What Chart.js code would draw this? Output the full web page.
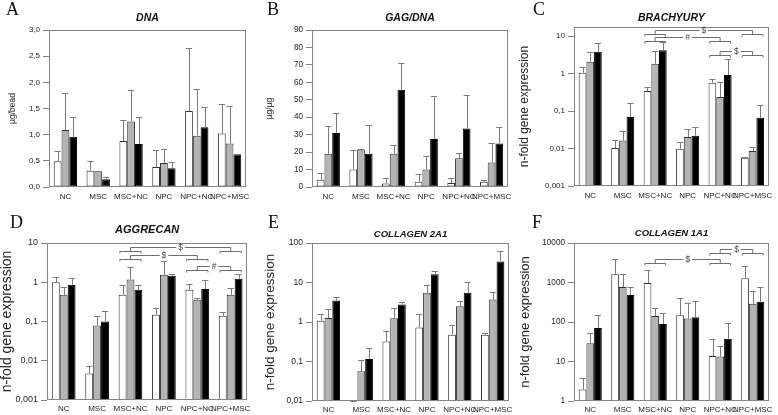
<!DOCTYPE html>
<html>
<head>
<meta charset="utf-8">
<script src="https://cdn.jsdelivr.net/npm/chart.js@4.4.0/dist/chart.umd.min.js"></script>
<style>
  html, body { margin: 0; padding: 0; background: #fff; }
  body { width: 778px; height: 415px; position: relative; overflow: hidden; }
  canvas { position: absolute; }
</style>
</head>
<body>
<canvas id="cA" width="255" height="205" style="left:0;top:0"></canvas>
<canvas id="cB" width="262" height="205" style="left:255px;top:0"></canvas>
<canvas id="cC" width="268" height="205" style="left:510px;top:0"></canvas>
<canvas id="cD" width="255" height="210" style="left:0;top:205px"></canvas>
<canvas id="cE" width="262" height="210" style="left:255px;top:205px"></canvas>
<canvas id="cF" width="268" height="210" style="left:510px;top:205px"></canvas>
<script>
var categories = ['NC', 'MSC', 'MSC+NC', 'NPC', 'NPC+NC', 'NPC+MSC'];

// A - DNA (ug/bead)
var dnaWhite = [0.49, 0.31, 0.88, 0.38, 1.45, 1.02];
var dnaGray = [1.09, 0.30, 1.25, 0.46, 0.98, 0.83];
var dnaBlack = [0.96, 0.15, 0.82, 0.36, 1.14, 0.62];
var dnaWhiteErr = [0.68, 0.50, 1.28, 0.71, 2.66, 1.59];
var dnaGrayErr = [1.80, 0.31, 1.85, 0.72, 1.87, 1.55];
var dnaBlackErr = [1.34, 0.20, 1.33, 0.47, 1.53, 0.64];
var dnaTicks = [0, 0.5, 1, 1.5, 2, 2.5, 3];
var dnaTickLabels = ['0,0', '0,5', '1,0', '1,5', '2,0', '2,5', '3,0'];

// B - GAG/DNA (ug/ug)
var gagWhite = [4.2, 10, 2, 3, 2.3, 3];
var gagGray = [19, 21.5, 19, 10, 16.5, 14];
var gagBlack = [31, 19, 55.7, 27.5, 33.5, 25];
var gagWhiteErr = [8.2, 21, 5.2, 7.7, 5.3, 4];
var gagGrayErr = [35, 21.6, 24, 18, 19.5, 25.3];
var gagBlackErr = [42.5, 35.8, 70.8, 52, 53, 34.5];
var gagTicks = [0, 10, 20, 30, 40, 50, 60, 70, 80, 90];
var gagTickLabels = ['0', '10', '20', '30', '40', '50', '60', '70', '80', '90'];

// C - Brachyury
var brachyWhite = [1.05, 0.0103, 0.34, 0.0099, 0.57, 0.0057];
var brachyGray = [2.07, 0.0163, 1.83, 0.0203, 0.235, 0.0086];
var brachyBlack = [3.8, 0.069, 4.2, 0.022, 0.91, 0.066];
var brachyWhiteErr = [1.5, 0.0166, 0.446, 0.0149, 0.7, 0.006];
var brachyGrayErr = [3.74, 0.029, 3.98, 0.0324, 0.59, 0.0107];
var brachyBlackErr = [6.5, 0.163, 7.06, 0.0374, 2.44, 0.142];
var brachyTicks = [0.001, 0.01, 0.1, 1, 10];
var brachyTickLabels = ['0,001', '0,01', '0,1', '1', '10'];
var brachyBrackets = [[2, 5, 14.2, '$'], [2, 4, 9.2, '#'], [4, 5, 3.9, '$']];

// D - Aggrecan
var aggWhite = [1.0, 0.0047, 0.48, 0.148, 0.64, 0.14];
var aggGray = [0.48, 0.079, 1.18, 1.55, 0.357, 0.48];
var aggBlack = [0.86, 0.1, 0.64, 1.47, 0.67, 1.23];
var aggWhiteErr = [1.36, 0.0075, 0.83, 0.223, 0.92, 0.177];
var aggGrayErr = [0.75, 0.14, 2.39, 3.4, 0.40, 0.72];
var aggBlackErr = [1.28, 0.187, 0.83, 1.63, 1.16, 1.62];
var aggTicks = [0.001, 0.01, 0.1, 1, 10];
var aggTickLabels = ['0,001', '0,01', '0,1', '1', '10'];
var aggBrackets = [[2, 5, 8.0, '$'], [2, 4, 5.0, '$'], [4, 5, 2.6, '#']];

// E - Collagen 2A1
var col2White = [1.08, 0.0101, 0.32, 0.73, 0.475, 0.475];
var col2Gray = [1.26, 0.057, 1.25, 5.5, 2.5, 3.7];
var col2Black = [3.5, 0.116, 2.77, 16.2, 5.5, 34];
var col2WhiteErr = [1.6, 0.0101, 0.58, 1.6, 0.82, 0.53];
var col2GrayErr = [2.19, 0.11, 2.28, 8.6, 3.5, 5.6];
var col2BlackErr = [4.35, 0.225, 3.24, 19.7, 10.5, 63.7];
var col2Ticks = [0.01, 0.1, 1, 10, 100];
var col2TickLabels = ['0,01', '0,1', '1', '10', '100'];

// F - Collagen 1A1
var col1White = [1.95, 1617, 970, 148, 13.8, 1277];
var col1Gray = [29, 768, 142, 122, 13.3, 288];
var col1Black = [70, 480, 89, 131, 37.5, 324];
var col1WhiteErr = [3.86, 3900, 2085, 410, 36.8, 2690];
var col1GrayErr = [52, 1617, 223, 300, 25.3, 607];
var col1BlackErr = [148, 768, 166, 337, 94, 768];
var col1Ticks = [1, 10, 100, 1000, 10000];
var col1TickLabels = ['1', '10', '100', '1000', '10000'];
var col1Brackets = [[4, 5, 7000, '$'], [2, 4, 3900, '$']];

var sans = '"Liberation Sans", Arial, sans-serif';

// draws error bars, frame, significance brackets and the panel letter
var panelDecor = {
    id: 'panelDecor',
    afterDatasetsDraw: function(chart, args, opts) {
        var ctx = chart.ctx;
        var a = chart.chartArea;
        var xs = chart.scales.x, ys = chart.scales.y;
        ctx.save();
        ctx.lineWidth = 1;

        chart.data.datasets.forEach(function(ds, i) {
            var meta = chart.getDatasetMeta(i);
            meta.data.forEach(function(bar, j) {
                var top = Math.round(ys.getPixelForValue(ds.errTop[j])) + 0.5;
                var cx = Math.round(bar.x) + 0.5;
                var half = bar.width * 0.4;
                ctx.strokeStyle = '#7a7a7a';
                ctx.beginPath();
                ctx.moveTo(cx, bar.y);
                ctx.lineTo(cx, top);
                ctx.moveTo(bar.x - half, top);
                ctx.lineTo(bar.x + half, top);
                ctx.stroke();
            });
        });

        ctx.strokeStyle = '#858585';
        ctx.strokeRect(Math.round(a.left) + 0.5, Math.round(a.top) + 0.5,
            Math.round(a.right - a.left) - 1, Math.round(a.bottom - a.top) - 1);

        var bw = chart.getDatasetMeta(0).data[0].width;
        (opts.brackets || []).forEach(function(b) {
            var x1 = xs.getPixelForValue(b[0]);
            var x2 = xs.getPixelForValue(b[1]);
            var yl = Math.round(ys.getPixelForValue(b[2])) + 0.5;
            var gh = bw * 1.35;
            ctx.strokeStyle = '#6e6e6e';
            ctx.beginPath();
            [x1, x2].forEach(function(cx) {
                ctx.moveTo(cx - gh, yl + 6);
                ctx.lineTo(cx - gh, yl + 4);
                ctx.lineTo(cx + gh, yl + 4);
                ctx.lineTo(cx + gh, yl + 6);
                ctx.moveTo(cx, yl + 4);
                ctx.lineTo(cx, yl);
            });
            ctx.font = '8.5px ' + sans;
            var mid = (x1 + x2) / 2;
            var tw = ctx.measureText(b[3]).width / 2 + 2;
            ctx.moveTo(x1, yl);
            ctx.lineTo(mid - tw, yl);
            ctx.moveTo(mid + tw, yl);
            ctx.lineTo(x2, yl);
            ctx.stroke();
            ctx.fillStyle = '#444';
            ctx.textAlign = 'center';
            ctx.textBaseline = 'middle';
            ctx.fillText(b[3], mid, yl + 0.5);
        });

        ctx.font = '18px "Liberation Serif", "Times New Roman", serif';
        ctx.fillStyle = '#111';
        ctx.textAlign = 'left';
        ctx.textBaseline = 'alphabetic';
        ctx.fillText(opts.letter, opts.letterX, opts.letterY);
        ctx.restore();
    }
};

function buildChart(p) {
    var isLog = p.log;
    var titleTop = p.titleY - p.titleSize / 2;
    return new Chart(document.getElementById(p.id), {
        type: 'bar',
        data: {
            labels: categories,
            datasets: [
                { data: p.white, errTop: p.whiteErr, backgroundColor: '#ffffff', borderColor: '#333333' },
                { data: p.gray, errTop: p.grayErr, backgroundColor: '#b4b4b4', borderColor: '#333333' },
                { data: p.black, errTop: p.blackErr, backgroundColor: '#000000', borderColor: '#000000' }
            ]
        },
        options: {
            responsive: false,
            animation: false,
            layout: { padding: { left: 0, top: 0, right: p.padRight, bottom: 0 } },
            datasets: { bar: { barPercentage: 1, categoryPercentage: 0.71, borderWidth: 1, borderSkipped: false } },
            plugins: {
                legend: { display: false },
                tooltip: { enabled: false },
                title: {
                    display: true,
                    text: p.title,
                    fullSize: false,
                    color: '#111',
                    font: { family: sans, size: p.titleSize, weight: 'bold', style: 'italic', lineHeight: 1 },
                    padding: { top: titleTop, bottom: p.top - titleTop - p.titleSize }
                },
                panelDecor: { letter: p.letter, letterX: p.letterX, letterY: p.letterY, brackets: p.brackets }
            },
            scales: {
                x: {
                    grid: { display: false, drawTicks: false },
                    border: { display: false },
                    ticks: { autoSkip: false, maxRotation: 0, minRotation: 0, padding: p.xPad, color: '#222', font: { family: sans, size: 8 } },
                    afterFit: function(s) { s.height = p.xHeight; }
                },
                y: {
                    type: isLog ? 'logarithmic' : 'linear',
                    min: p.tickValues[0],
                    max: p.max,
                    grid: { display: true, drawOnChartArea: false, drawTicks: true, tickLength: 6, color: '#858585' },
                    border: { display: false },
                    ticks: {
                        padding: 3,
                        color: '#222',
                        font: { family: sans, size: p.tickSize },
                        callback: function(v) {
                            var k = p.tickValues.indexOf(v);
                            return k < 0 ? '' : p.tickLabels[k];
                        }
                    },
                    afterBuildTicks: function(s) {
                        s.ticks = p.tickValues.map(function(v) { return { value: v }; });
                    },
                    afterFit: function(s) { s.width = p.yWidth; },
                    title: {
                        display: true,
                        text: p.yTitle,
                        color: '#222',
                        font: { family: sans, size: p.yTitleSize, lineHeight: 1 },
                        padding: { top: p.yTitleX - p.yTitleSize / 2, bottom: 0 }
                    }
                }
            }
        },
        plugins: [panelDecor]
    });
}

buildChart({
    id: 'cA', letter: 'A', letterX: 6, letterY: 15, title: 'DNA', titleSize: 10.5, titleY: 18,
    white: dnaWhite, gray: dnaGray, black: dnaBlack,
    whiteErr: dnaWhiteErr, grayErr: dnaGrayErr, blackErr: dnaBlackErr,
    log: false, max: 3, tickValues: dnaTicks, tickLabels: dnaTickLabels, tickSize: 8,
    yTitle: 'µg/bead', yTitleSize: 8.5, yTitleX: 13,
    yWidth: 49, top: 30, padRight: 5, xHeight: 18, xPad: 5
});
buildChart({
    id: 'cB', letter: 'B', letterX: 12, letterY: 15, title: 'GAG/DNA', titleSize: 10.5, titleY: 18,
    white: gagWhite, gray: gagGray, black: gagBlack,
    whiteErr: gagWhiteErr, grayErr: gagGrayErr, blackErr: gagBlackErr,
    log: false, max: 90, tickValues: gagTicks, tickLabels: gagTickLabels, tickSize: 8.2,
    yTitle: 'µg/µg', yTitleSize: 8.5, yTitleX: 15,
    yWidth: 57, top: 30, padRight: 3, xHeight: 18, xPad: 5
});
buildChart({
    id: 'cC', letter: 'C', letterX: 23, letterY: 15, title: 'BRACHYURY', titleSize: 10.5, titleY: 18,
    white: brachyWhite, gray: brachyGray, black: brachyBlack,
    whiteErr: brachyWhiteErr, grayErr: brachyGrayErr, blackErr: brachyBlackErr,
    log: true, max: 17.4, tickValues: brachyTicks, tickLabels: brachyTickLabels, tickSize: 8,
    brackets: brachyBrackets,
    yTitle: 'n-fold gene expression', yTitleSize: 12, yTitleX: 15,
    yWidth: 64, top: 27, padRight: 9, xHeight: 19, xPad: 5
});
buildChart({
    id: 'cD', letter: 'D', letterX: 10, letterY: 23, title: 'AGGRECAN', titleSize: 11, titleY: 25,
    white: aggWhite, gray: aggGray, black: aggBlack,
    whiteErr: aggWhiteErr, grayErr: aggGrayErr, blackErr: aggBlackErr,
    log: true, max: 10, tickValues: aggTicks, tickLabels: aggTickLabels, tickSize: 9,
    brackets: aggBrackets,
    yTitle: 'n-fold gene expression', yTitleSize: 14, yTitleX: 7,
    yWidth: 47, top: 38, padRight: 5, xHeight: 15, xPad: 4
});
buildChart({
    id: 'cE', letter: 'E', letterX: 13, letterY: 23, title: 'COLLAGEN 2A1', titleSize: 9.5, titleY: 29,
    white: col2White, gray: col2Gray, black: col2Black,
    whiteErr: col2WhiteErr, grayErr: col2GrayErr, blackErr: col2BlackErr,
    log: true, max: 100, tickValues: col2Ticks, tickLabels: col2TickLabels, tickSize: 8.5,
    yTitle: 'n-fold gene expression', yTitleSize: 13.5, yTitleX: 15,
    yWidth: 57, top: 38, padRight: 3, xHeight: 14, xPad: 4
});
buildChart({
    id: 'cF', letter: 'F', letterX: 22, letterY: 23, title: 'COLLAGEN 1A1', titleSize: 9.5, titleY: 28,
    white: col1White, gray: col1Gray, black: col1Black,
    whiteErr: col1WhiteErr, grayErr: col1GrayErr, blackErr: col1BlackErr,
    log: true, max: 10000, tickValues: col1Ticks, tickLabels: col1TickLabels, tickSize: 8.2,
    brackets: col1Brackets,
    yTitle: 'n-fold gene expression', yTitleSize: 13, yTitleX: 15,
    yWidth: 64, top: 38, padRight: 9, xHeight: 14, xPad: 4
});
</script>
</body>
</html>
